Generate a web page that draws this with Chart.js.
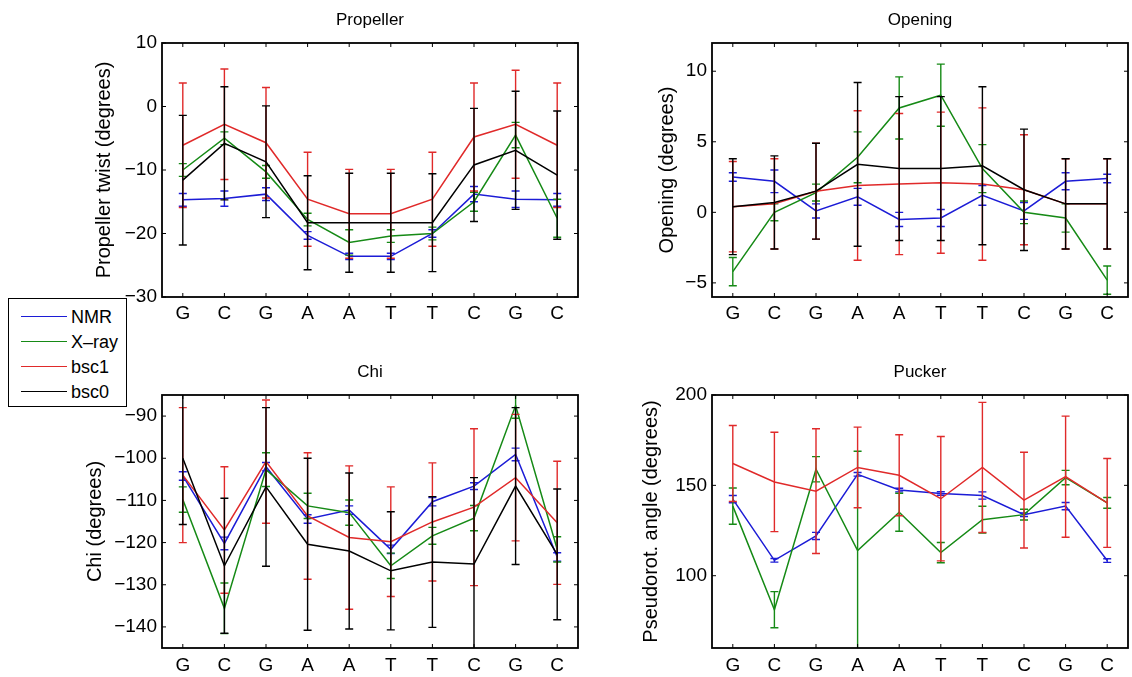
<!DOCTYPE html>
<html>
<head>
<meta charset="utf-8">
<title>Propeller / Opening / Chi / Pucker</title>
<script src="https://cdn.jsdelivr.net/npm/chart.js@4.4.0/dist/chart.umd.min.js"></script>
<style>
  body { margin: 0; background: #fff; width: 1132px; height: 677px; overflow: hidden; position: relative;
         font-family: 'Liberation Sans', Arial, Helvetica, sans-serif; }
  canvas { position: absolute; }
  #legend { position: absolute; left: 8px; top: 298px; width: 117px; height: 107px; border: 1px solid #000;
            background: #fff; z-index: 5; font-size: 18px; color: #000; }
  #legend .row { position: absolute; left: 0; height: 22px; width: 100%; }
  #legend .swatch { position: absolute; left: 12px; top: 10px; width: 46px; height: 0; border-top: 1.5px solid; }
  #legend .txt { position: absolute; left: 62px; top: 0; line-height: 22px; }
</style>
</head>
<body>
<canvas id="propeller" width="600" height="335" style="left:0;top:0"></canvas>
<canvas id="opening" width="532" height="335" style="left:600px;top:0"></canvas>
<canvas id="chi" width="600" height="322" style="left:0;top:355px"></canvas>
<canvas id="pucker" width="532" height="322" style="left:600px;top:355px"></canvas>
<div id="legend"></div>

<script>
// --- data ---
const bases = ['G', 'C', 'G', 'A', 'A', 'T', 'T', 'C', 'G', 'C'];
const seriesNames = ['NMR', 'X-ray', 'bsc1', 'bsc0'];
const seriesColors = ['#1c1cd6', '#168a16', '#e02a2a', '#000000'];

// Propeller twist
const propTicks = [-30, -20, -10, 0, 10];
const propNmr = [-14.7, -14.5, -13.8, -20.3, -23.6, -23.6, -20.0, -13.8, -14.6, -14.7];
const propNmrErr = [1.0, 1.2, 1.0, 0.6, 0.5, 0.5, 0.6, 1.2, 1.3, 1.0];
const propXray = [-10.0, -5.0, -10.3, -17.8, -21.4, -20.4, -20.0, -15.0, -4.5, -17.6];
const propXrayErr = [1.0, 1.0, 1.0, 1.0, 2.0, 1.0, 1.0, 1.5, 2.0, 3.0];
const propBsc1 = [-6.1, -2.8, -5.7, -14.6, -16.9, -16.9, -14.6, -4.8, -2.8, -6.1];
const propBsc1Err = [9.8, 8.7, 8.7, 7.4, 7.0, 7.0, 7.4, 8.5, 8.5, 9.8];
const propBsc0 = [-11.6, -5.8, -8.7, -18.3, -18.3, -18.3, -18.3, -9.2, -6.9, -10.8];
const propBsc0Err = [10.2, 8.9, 8.8, 7.4, 7.8, 7.8, 7.7, 8.9, 9.3, 10.1];

// Opening
const openTicks = [-5, 0, 5, 10];
const openNmr = [2.5, 2.2, 0.1, 1.1, -0.5, -0.4, 1.2, 0.1, 2.2, 2.4];
const openNmrErr = [0.3, 0.8, 0.5, 0.6, 0.5, 0.6, 0.7, 0.6, 0.6, 0.3];
const openXray = [-4.2, 0.0, 1.4, 3.9, 7.4, 8.3, 3.1, 0.0, -0.4, -4.8];
const openXrayErr = [1.0, 0.6, 0.6, 1.8, 2.2, 2.2, 1.7, 0.8, 1.0, 1.0];
const openBsc1 = [0.4, 0.6, 1.5, 1.9, 2.0, 2.1, 2.0, 1.6, 0.6, 0.6];
const openBsc1Err = [3.2, 3.2, 3.4, 5.3, 5.0, 5.0, 5.4, 3.9, 3.2, 3.2];
const openBsc0 = [0.4, 0.7, 1.5, 3.4, 3.1, 3.1, 3.3, 1.6, 0.6, 0.6];
const openBsc0Err = [3.4, 3.3, 3.4, 5.8, 5.1, 5.1, 5.6, 4.3, 3.2, 3.2];

// Chi
const chiTicks = [-140, -130, -120, -110, -100, -90];
const chiNmr = [-104.2, -120.2, -102.0, -114.4, -112.3, -121.6, -110.3, -106.6, -99.1, -123.4];
const chiNmrErr = [1.0, 1.5, 1.0, 1.0, 1.0, 1.0, 1.0, 0.8, 1.5, 1.0];
const chiXray = [-109.8, -135.6, -102.7, -111.3, -112.9, -125.5, -118.4, -114.2, -87.5, -121.6];
const chiXrayErr = [3, 6, 4, 3, 3, 3, 2, 3, 3, 3];
const chiBsc1 = [-104.0, -117.0, -100.8, -113.7, -118.8, -119.8, -115.1, -111.6, -104.6, -115.3];
const chiBsc1Err = [16, 15, 14.6, 15, 17, 13, 14, 18.6, 15, 14.6];
const chiBsc0 = [-100.0, -125.5, -106.8, -120.4, -122.0, -126.7, -124.6, -125.1, -106.6, -122.8];
const chiBsc0Err = [15.7, 16, 18.8, 20.4, 18.5, 14, 15.5, 20.5, 18.6, 15.5];

// Pucker (pseudorotation angle), no bsc0 curve
const puckTicks = [100, 150, 200];
const puckNmr = [142.4, 108.5, 122.0, 156.1, 147.4, 145.5, 144.4, 133.8, 138.5, 108.4];
const puckNmrErr = [2, 1, 2, 1, 1, 1, 2, 1, 2, 1];
const puckXray = [138.5, 81.2, 158.9, 113.9, 135.1, 112.8, 131.0, 133.8, 154.3, 140.3];
const puckXrayErr = [10, 10, 7, 55, 10.5, 5.6, 7.4, 3, 4, 3];
const puckBsc1 = [162.1, 151.9, 146.8, 159.9, 155.6, 142.6, 159.9, 141.8, 154.8, 140.3];
const puckBsc1Err = [21, 27.5, 34.5, 22.3, 22.4, 34.4, 36, 26.5, 33.5, 24.6];

const FONT = "'Liberation Sans', Arial, Helvetica, sans-serif";
const Y_TITLE_SIZE = 20;

// error bars (per dataset, so the stacking follows the curves) + matlab style box with inward ticks
const matlabAxes = {
    id: 'matlabAxes',
    afterDatasetDraw(chart, args) {
        const ds = chart.data.datasets[args.index];
        if (!ds.errors) return;
        const ctx = chart.ctx, x = chart.scales.x, y = chart.scales.y, a = chart.chartArea;
        ctx.save();
        ctx.beginPath();
        ctx.rect(a.left, a.top, a.right - a.left, a.bottom - a.top);
        ctx.clip();
        ctx.strokeStyle = ds.borderColor;
        ctx.lineWidth = 1.4;
        ctx.beginPath();
        ds.data.forEach((v, i) => {
            const e = ds.errors[i];
            const px = x.getPixelForValue(i);
            const lo = y.getPixelForValue(v - e), hi = y.getPixelForValue(v + e);
            ctx.moveTo(px, lo); ctx.lineTo(px, hi);
            ctx.moveTo(px - 4, lo); ctx.lineTo(px + 4, lo);
            ctx.moveTo(px - 4, hi); ctx.lineTo(px + 4, hi);
        });
        ctx.stroke();
        ctx.restore();
    },
    afterDraw(chart) {
        const ctx = chart.ctx, x = chart.scales.x, y = chart.scales.y, a = chart.chartArea;
        ctx.save();
        ctx.strokeStyle = '#000';
        ctx.lineWidth = 1;
        ctx.beginPath();
        x.ticks.forEach((t, i) => {
            const px = x.getPixelForTick(i);
            ctx.moveTo(px, a.bottom); ctx.lineTo(px, a.bottom - 4);
            ctx.moveTo(px, a.top); ctx.lineTo(px, a.top + 4);
        });
        y.ticks.forEach(t => {
            const py = y.getPixelForValue(t.value);
            ctx.moveTo(a.left, py); ctx.lineTo(a.left + 4, py);
            ctx.moveTo(a.right, py); ctx.lineTo(a.right - 4, py);
        });
        ctx.stroke();
        ctx.lineWidth = 1.8;
        ctx.strokeRect(a.left, a.top, a.right - a.left, a.bottom - a.top);
        ctx.restore();
    }
};

function buildPanel(id, o) {
    const datasets = o.series.map((s, k) => ({
        label: seriesNames[k],
        data: s[0],
        errors: s[1],
        borderColor: seriesColors[k],
        backgroundColor: seriesColors[k],
        borderWidth: 1.5,
        pointRadius: 0,
        tension: 0,
        order: 10 - k      // later series drawn on top, like matlab
    }));
    return new Chart(document.getElementById(id), {
        type: 'line',
        data: { labels: bases, datasets: datasets },
        options: {
            responsive: false,
            animation: false,
            events: [],
            layout: { padding: { left: 0, right: o.padRight, top: 0, bottom: 0 } },
            plugins: {
                legend: { display: false },
                tooltip: { enabled: false },
                title: {
                    display: true, text: o.title, fullSize: false, color: '#000',
                    font: { family: FONT, size: 17, weight: 'normal' },
                    padding: { top: o.titleTop, bottom: o.titleBottom }
                }
            },
            scales: {
                x: {
                    type: 'category',
                    offset: true,
                    grid: { display: false, drawTicks: false },
                    border: { display: false },
                    ticks: { color: '#000', font: { family: FONT, size: 19 }, padding: o.xPad, maxRotation: 0, autoSkip: false },
                    afterFit: s => { s.height = o.xAxisH; }
                },
                y: {
                    min: o.yMin, max: o.yMax,
                    afterBuildTicks: s => { s.ticks = o.yTicks.map(v => ({ value: v })); },
                    grid: { display: false, drawTicks: false },
                    border: { display: false },
                    ticks: {
                        color: '#000', font: { family: FONT, size: 19 }, padding: 5,
                        callback: v => String(v).replace('-', '\u2212')
                    },
                    title: {
                        display: true, text: o.yTitle, color: '#000',
                        font: { family: FONT, size: Y_TITLE_SIZE },
                        padding: { top: o.yTitleX - Y_TITLE_SIZE * 0.6, bottom: 0 }
                    },
                    afterFit: s => { s.width = o.yAxisW; }
                }
            }
        },
        plugins: [matlabAxes]
    });
}

buildPanel('propeller', {
    title: 'Propeller', yTitle: 'Propeller twist (degrees)', yTitleX: 104,
    yMin: -30, yMax: 10, yTicks: propTicks,
    yAxisW: 162, padRight: 22, titleTop: 10, titleBottom: 12.6, xAxisH: 38, xPad: 5,
    series: [[propNmr, propNmrErr], [propXray, propXrayErr], [propBsc1, propBsc1Err], [propBsc0, propBsc0Err]]
});
buildPanel('opening', {
    title: 'Opening', yTitle: 'Opening (degrees)', yTitleX: 67,
    yMin: -6, yMax: 12, yTicks: openTicks,
    yAxisW: 112, padRight: 4, titleTop: 10, titleBottom: 12.6, xAxisH: 38, xPad: 5,
    series: [[openNmr, openNmrErr], [openXray, openXrayErr], [openBsc1, openBsc1Err], [openBsc0, openBsc0Err]]
});
buildPanel('chi', {
    title: 'Chi', yTitle: 'Chi (degrees)', yTitleX: 95,
    yMin: -145, yMax: -85, yTicks: chiTicks,
    yAxisW: 162, padRight: 22, titleTop: 6.8, titleBottom: 12.8, xAxisH: 29, xPad: 6,
    series: [[chiNmr, chiNmrErr], [chiXray, chiXrayErr], [chiBsc1, chiBsc1Err], [chiBsc0, chiBsc0Err]]
});
buildPanel('pucker', {
    title: 'Pucker', yTitle: 'Pseudorot. angle (degrees)', yTitleX: 51,
    yMin: 60, yMax: 200, yTicks: puckTicks,
    yAxisW: 112, padRight: 4, titleTop: 6.8, titleBottom: 12.8, xAxisH: 29, xPad: 6,
    series: [[puckNmr, puckNmrErr], [puckXray, puckXrayErr], [puckBsc1, puckBsc1Err]]
});

// shared legend box sitting between the panels
const legend = document.getElementById('legend');
seriesNames.forEach((name, k) => {
    const row = document.createElement('div');
    row.className = 'row';
    row.style.top = (7 + k * 25) + 'px';
    row.innerHTML = '<span class="swatch" style="border-color:' + seriesColors[k] + '"></span><span class="txt">' + name.replace('-', '\u2013') + '</span>';
    legend.appendChild(row);
});
</script>
</body>
</html>
